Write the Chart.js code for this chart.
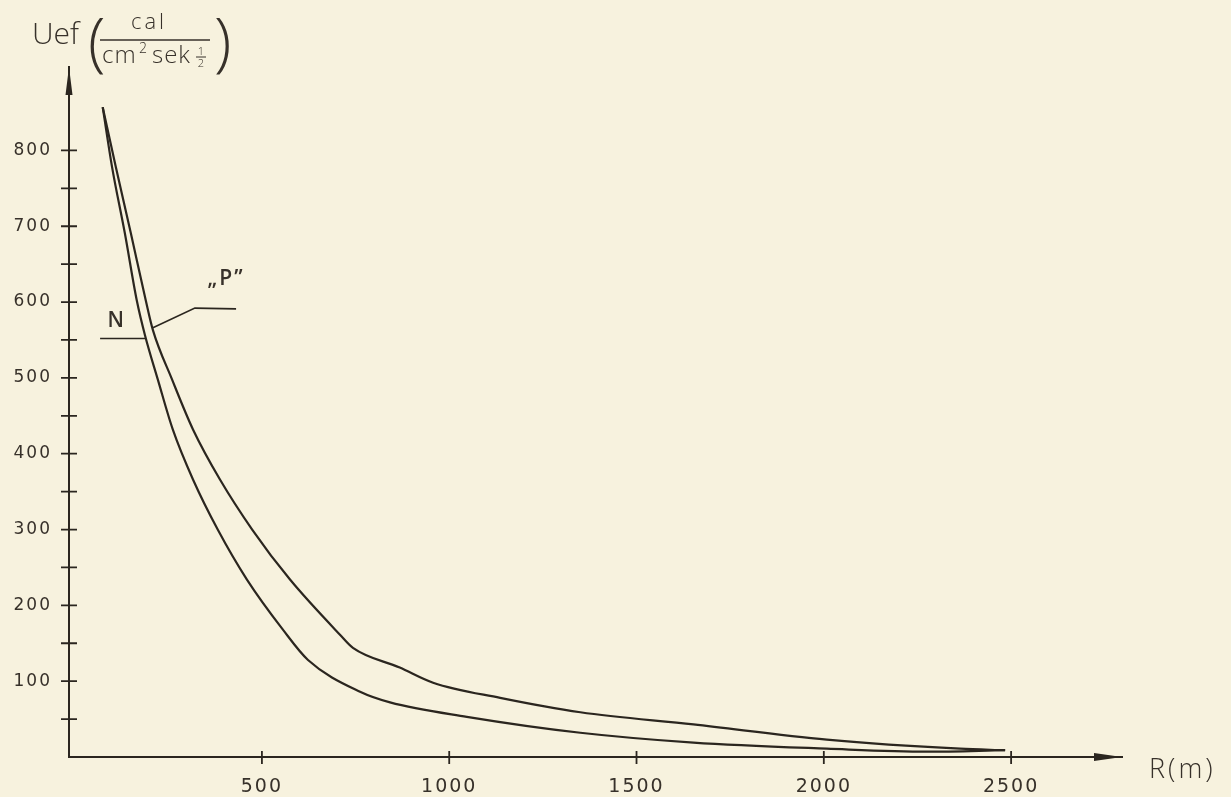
<!DOCTYPE html>
<html>
<head>
<meta charset="utf-8">
<script src="https://cdn.jsdelivr.net/npm/chart.js"></script>
<style>
  body { margin: 0; background: #f7f2de; }
  #wrap { width: 1231px; height: 797px; }
</style>
</head>
<body>
<div id="wrap"><canvas id="chart" width="1231" height="797"></canvas></div>
<script>
// values: R in metres, Uef in cal/(cm2 sek^1/2)
const rP = [75, 110, 150, 190, 209, 260, 316, 388, 474, 575, 709, 743, 868, 957, 1136, 1350, 1652, 2008, 2364, 2484];
const uefP = [857, 778, 691, 602, 563, 498, 432, 366, 300, 234, 161, 144, 118, 98, 78, 59, 43, 23, 11, 9];

const rN = [75, 100, 134, 166, 188, 222, 262, 316, 382, 460, 556, 623, 762, 842, 1047, 1350, 1652, 2008, 2276, 2484];
const uefN = [857, 778, 691, 602, 556, 498, 432, 366, 300, 234, 168, 128, 86, 72, 53, 32, 19, 11, 7, 9];

const xTicks = [500, 1000, 1500, 2000, 2500];
const yTicks = [50, 100, 150, 200, 250, 300, 350, 400, 450, 500, 550, 600, 650, 700, 750, 800];

const ink = '#2b261f';
const textInk = '#37312a';
const font = '"Open Sans", "DejaVu Sans", sans-serif';
const tickFont = '"DejaVu Sans", sans-serif';

const toPoints = (xs, ys) => xs.map((x, i) => ({ x: x, y: ys[i] }));

// crossing tick marks, arrow heads, labels and leader lines
const drawingPlugin = {
    id: 'drawing',
    beforeDraw(chart) {
        // wide, spaced lettering for the tick labels
        chart.ctx.letterSpacing = '2px';
    },
    beforeDatasetsDraw(chart) {
        chart.ctx.letterSpacing = '0px';
    },
    afterDraw(chart) {
        const ctx = chart.ctx;
        const xs = chart.scales.x;
        const ys = chart.scales.y;
        const area = chart.chartArea;
        ctx.save();
        ctx.letterSpacing = '0px';
        ctx.strokeStyle = ink;
        ctx.fillStyle = ink;
        ctx.lineWidth = 1.8;

        // ticks crossing the axes
        ctx.beginPath();
        yTicks.forEach(v => {
            const py = ys.getPixelForValue(v);
            ctx.moveTo(area.left - 8, py);
            ctx.lineTo(area.left + 8, py);
        });
        xTicks.forEach(v => {
            const px = xs.getPixelForValue(v);
            ctx.moveTo(px, area.bottom - 6);
            ctx.lineTo(px, area.bottom + 7);
        });
        ctx.stroke();

        // arrow heads
        ctx.beginPath();
        ctx.moveTo(area.left, area.top);
        ctx.lineTo(area.left - 3.5, area.top + 28);
        ctx.lineTo(area.left + 3.5, area.top + 28);
        ctx.closePath();
        ctx.fill();
        ctx.beginPath();
        ctx.moveTo(area.right, area.bottom);
        ctx.lineTo(area.right - 28, area.bottom - 4);
        ctx.lineTo(area.right - 28, area.bottom + 4);
        ctx.closePath();
        ctx.fill();

        // leader lines for N and "P"
        ctx.lineWidth = 1.6;
        ctx.beginPath();
        ctx.moveTo(xs.getPixelForValue(68), ys.getPixelForValue(552));
        ctx.lineTo(xs.getPixelForValue(188), ys.getPixelForValue(552));
        ctx.moveTo(xs.getPixelForValue(209), ys.getPixelForValue(566));
        ctx.lineTo(xs.getPixelForValue(321), ys.getPixelForValue(592));
        ctx.lineTo(xs.getPixelForValue(431), ys.getPixelForValue(591));
        ctx.stroke();

        ctx.fillStyle = textInk;
        ctx.textBaseline = 'alphabetic';
        ctx.textAlign = 'left';
        ctx.font = '600 21px ' + font;
        ctx.fillText('N', xs.getPixelForValue(88), ys.getPixelForValue(567));
        ctx.letterSpacing = '2px';
        ctx.fillText('„P”', xs.getPixelForValue(355), ys.getPixelForValue(622));

        // y axis title: Uef (cal / cm2 sek 1/2)
        const tx = area.left;
        ctx.letterSpacing = '0px';
        ctx.font = '300 30px ' + font;
        ctx.fillText('Uef', tx - 37, 44);
        ctx.font = '300 64px ' + font;
        ctx.fillText('(', tx + 19, 64);
        ctx.fillText(')', tx + 145, 64);
        ctx.letterSpacing = '3px';
        ctx.font = '300 22px ' + font;
        ctx.textAlign = 'center';
        ctx.fillText('cal', tx + 80, 29);
        ctx.lineWidth = 1.6;
        ctx.strokeStyle = textInk;
        ctx.beginPath();
        ctx.moveTo(tx + 31, 40);
        ctx.lineTo(tx + 141, 40);
        ctx.stroke();
        ctx.textAlign = 'left';
        ctx.letterSpacing = '1px';
        ctx.font = '300 24px ' + font;
        ctx.fillText('cm', tx + 33, 63);
        ctx.font = '300 14px ' + font;
        ctx.fillText('2', tx + 70, 53);
        ctx.font = '300 24px ' + font;
        ctx.fillText('sek', tx + 83, 63);
        ctx.letterSpacing = '0px';
        ctx.font = '300 11px ' + font;
        ctx.textAlign = 'center';
        ctx.fillText('1', tx + 132, 55);
        ctx.fillText('2', tx + 132, 67);
        ctx.beginPath();
        ctx.moveTo(tx + 127, 57);
        ctx.lineTo(tx + 137, 57);
        ctx.lineWidth = 1;
        ctx.stroke();

        // x axis title
        ctx.textAlign = 'left';
        ctx.letterSpacing = '3px';
        ctx.font = '300 27px ' + font;
        ctx.fillText('R(m)', area.right + 27, area.bottom + 21);
        ctx.restore();
    }
};

const lineStyle = {
    borderColor: ink,
    borderWidth: 2.2,
    pointRadius: 0,
    showLine: true,
    cubicInterpolationMode: 'monotone',
    fill: false
};

new Chart(document.getElementById('chart'), {
    type: 'scatter',
    data: {
        datasets: [
            Object.assign({ label: '"P"', data: toPoints(rP, uefP) }, lineStyle),
            Object.assign({ label: 'N', data: toPoints(rN, uefN) }, lineStyle)
        ]
    },
    options: {
        responsive: false,
        animation: false,
        layout: { padding: { left: 0, right: 109, top: 67, bottom: 0 } },
        plugins: { legend: { display: false }, tooltip: { enabled: false } },
        scales: {
            x: {
                type: 'linear',
                min: -15,
                max: 2796,
                afterBuildTicks: axis => { axis.ticks = xTicks.map(v => ({ value: v })); },
                afterFit: axis => { axis.height = 40; },
                grid: { display: false, drawTicks: false },
                border: { color: ink, width: 2 },
                ticks: {
                    color: textInk,
                    padding: 19,
                    maxRotation: 0,
                    font: { family: tickFont, size: 19 },
                    callback: v => String(v)
                }
            },
            y: {
                type: 'linear',
                min: 0,
                max: 910,
                afterBuildTicks: axis => { axis.ticks = yTicks.map(v => ({ value: v })); },
                afterFit: axis => { axis.width = 69; },
                grid: { display: false, drawTicks: false },
                border: { color: ink, width: 2 },
                ticks: {
                    color: textInk,
                    padding: 17,
                    font: { family: tickFont, size: 17 },
                    callback: v => (v % 100 === 0 ? String(v) : '')
                }
            }
        }
    },
    plugins: [drawingPlugin]
});
</script>
</body>
</html>
